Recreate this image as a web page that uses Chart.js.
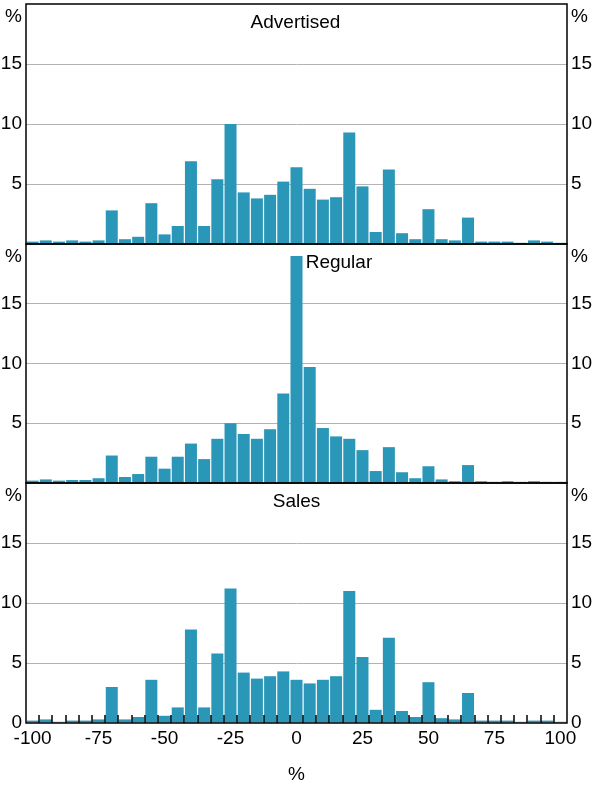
<!DOCTYPE html>
<html>
<head>
<meta charset="utf-8">
<script src="https://cdn.jsdelivr.net/npm/chart.js@4.4.1/dist/chart.umd.min.js"></script>
<style>
  html, body { margin: 0; padding: 0; background: #fff; }
  #wrap { position: relative; width: 599px; height: 786px; }
  #wrap canvas { position: absolute; left: 0; top: 0; }
</style>
</head>
<body>
<div id="wrap">
  <canvas id="advertisedChart" width="599" height="786"></canvas>
  <canvas id="regularChart" width="599" height="786"></canvas>
  <canvas id="salesChart" width="599" height="786"></canvas>
</div>
<script>
// price change bins (%), one bar per bin
const priceChange = ['-100', '-95', '-90', '-85', '-80', '-75', '-70', '-65', '-60', '-55',
    '-50', '-45', '-40', '-35', '-30', '-25', '-20', '-15', '-10', '-5',
    '0', '5', '10', '15', '20', '25', '30', '35', '40', '45',
    '50', '55', '60', '65', '70', '75', '80', '85', '90', '95', '100'];

// share of price changes in each bin (%)
const advertised = [0.2, 0.3, 0.2, 0.3, 0.2, 0.3, 2.8, 0.4, 0.6, 3.4,
    0.8, 1.5, 6.9, 1.5, 5.4, 10.0, 4.3, 3.8, 4.1, 5.2,
    6.4, 4.6, 3.7, 3.9, 9.3, 4.8, 1.0, 6.2, 0.9, 0.4,
    2.9, 0.4, 0.3, 2.2, 0.2, 0.2, 0.2, 0.1, 0.3, 0.2, 0.1];

const regular = [0.2, 0.3, 0.2, 0.25, 0.25, 0.4, 2.3, 0.5, 0.75, 2.2,
    1.2, 2.2, 3.3, 2.0, 3.7, 5.0, 4.1, 3.7, 4.5, 7.5,
    19.0, 9.7, 4.6, 3.9, 3.7, 2.75, 1.0, 3.0, 0.9, 0.4,
    1.4, 0.3, 0.15, 1.5, 0.15, 0.1, 0.15, 0.1, 0.15, 0.1, 0.1];

const sales = [0.2, 0.3, 0.1, 0.2, 0.2, 0.3, 3.0, 0.3, 0.5, 3.6,
    0.6, 1.3, 7.8, 1.3, 5.8, 11.2, 4.2, 3.7, 3.9, 4.3,
    3.6, 3.3, 3.6, 3.9, 11.0, 5.5, 1.1, 7.1, 1.0, 0.5,
    3.4, 0.4, 0.3, 2.5, 0.2, 0.2, 0.2, 0.1, 0.2, 0.2, 0.1];

const yTicks = [0, 5, 10, 15, 20];
const xTickEvery = 25;

const BAR_COLOUR = '#2a97b8';
const GRID_COLOUR = '#b3b3b3';
const FONT = { family: "'Liberation Sans', Arial, sans-serif", size: 19 };
const FONT_CSS = "19px 'Liberation Sans', Arial, sans-serif";

// frame, unit labels, panel title, and the little ticks on the bottom panel
const panelDecor = {
    id: 'panelDecor',
    afterDatasetsDraw(chart, args, opts) {
        const { ctx, chartArea: a } = chart;
        const x = chart.scales.x;
        ctx.save();
        ctx.strokeStyle = '#000';
        ctx.lineWidth = 1.5;

        if (opts.baseTicks) {
            ctx.beginPath();
            for (let i = 1; i < x.ticks.length; i++) {
                const px = Math.round((x.getPixelForTick(i - 1) + x.getPixelForTick(i)) / 2);
                ctx.moveTo(px, a.bottom);
                ctx.lineTo(px, a.bottom - 8);
            }
            ctx.stroke();
        }

        ctx.strokeRect(a.left, a.top, a.right - a.left, a.bottom - a.top);

        ctx.fillStyle = '#000';
        ctx.font = FONT_CSS;
        ctx.textBaseline = 'alphabetic';
        ctx.textAlign = 'right';
        ctx.fillText('%', a.left - 4, a.top + 17.5);
        ctx.textAlign = 'left';
        ctx.fillText('%', a.right + 4, a.top + 17.5);

        const tx = x.getPixelForValue(priceChange.indexOf(opts.anchor)) + (opts.dx || 0);
        ctx.textAlign = opts.align;
        ctx.fillText(opts.title, tx, a.top + 23.5);
        ctx.restore();
    }
};

const makePanel = (canvasId, values, cfg) => {
    const canvas = document.getElementById(canvasId);
    const ctx = canvas.getContext('2d');

    const fixY = (w) => (scale) => {
        scale.width = w;
        scale.paddingTop = 0;
        scale.paddingBottom = 0;
    };

    const yLabel = (v) => {
        if (v === 20) return '';
        if (v === 0) return cfg.bottom ? '0' : '';
        return String(v);
    };

    const xScale = cfg.bottom ? {
        offset: true,
        grid: { display: false, drawTicks: false },
        border: { display: false },
        ticks: {
            autoSkip: false,
            maxRotation: 0,
            padding: 4,
            color: '#000',
            font: FONT,
            callback: function (v) {
                const l = this.getLabelForValue(v);
                return Number(l) % xTickEvery === 0 ? l : '';
            }
        },
        title: { display: true, text: '%', color: '#000', font: FONT, padding: 0 },
        afterFit: (s) => { s.height = 63; s.paddingLeft = 0; s.paddingRight = 0; }
    } : {
        display: false,
        offset: true,
        ticks: { autoSkip: false }
    };

    return new Chart(ctx, {
        type: 'bar',
        data: {
            labels: priceChange,
            datasets: [{
                data: values,
                backgroundColor: BAR_COLOUR,
                borderWidth: 0,
                barPercentage: 0.91,
                categoryPercentage: 1.0
            }]
        },
        options: {
            responsive: false,
            animation: false,
            events: [],
            layout: { padding: { top: cfg.top, bottom: cfg.padBottom, left: 0, right: 0 } },
            plugins: {
                legend: { display: false },
                tooltip: { enabled: false },
                panelDecor: {
                    title: cfg.title,
                    anchor: cfg.anchor,
                    align: cfg.align,
                    dx: cfg.dx,
                    baseTicks: cfg.bottom
                }
            },
            scales: {
                x: xScale,
                y: {
                    position: 'left',
                    min: 0,
                    max: 20,
                    afterBuildTicks: (s) => { s.ticks = yTicks.map(v => ({ value: v })); },
                    ticks: { padding: 4, color: '#000', font: FONT, callback: yLabel },
                    grid: {
                        drawTicks: false,
                        lineWidth: 1,
                        color: (c) => (c.tick && (c.tick.value === 0 || c.tick.value === 20)) ? 'rgba(0,0,0,0)' : GRID_COLOUR
                    },
                    border: { display: false },
                    afterFit: fixY(26)
                },
                y2: {
                    position: 'right',
                    min: 0,
                    max: 20,
                    afterBuildTicks: (s) => { s.ticks = yTicks.map(v => ({ value: v })); },
                    ticks: { padding: 4, color: '#000', font: FONT, callback: yLabel },
                    grid: { display: false, drawTicks: false },
                    border: { display: false },
                    afterFit: fixY(32)
                }
            }
        },
        plugins: [panelDecor]
    });
};

makePanel('advertisedChart', advertised, { title: 'Advertised', anchor: '0', align: 'center', dx: -1, top: 4, padBottom: 786 - 244, bottom: false });
makePanel('regularChart', regular, { title: 'Regular', anchor: '5', align: 'left', dx: -4, top: 244, padBottom: 786 - 483, bottom: false });
makePanel('salesChart', sales, { title: 'Sales', anchor: '0', align: 'center', dx: 0, top: 483, padBottom: 0, bottom: true });
</script>
</body>
</html>
